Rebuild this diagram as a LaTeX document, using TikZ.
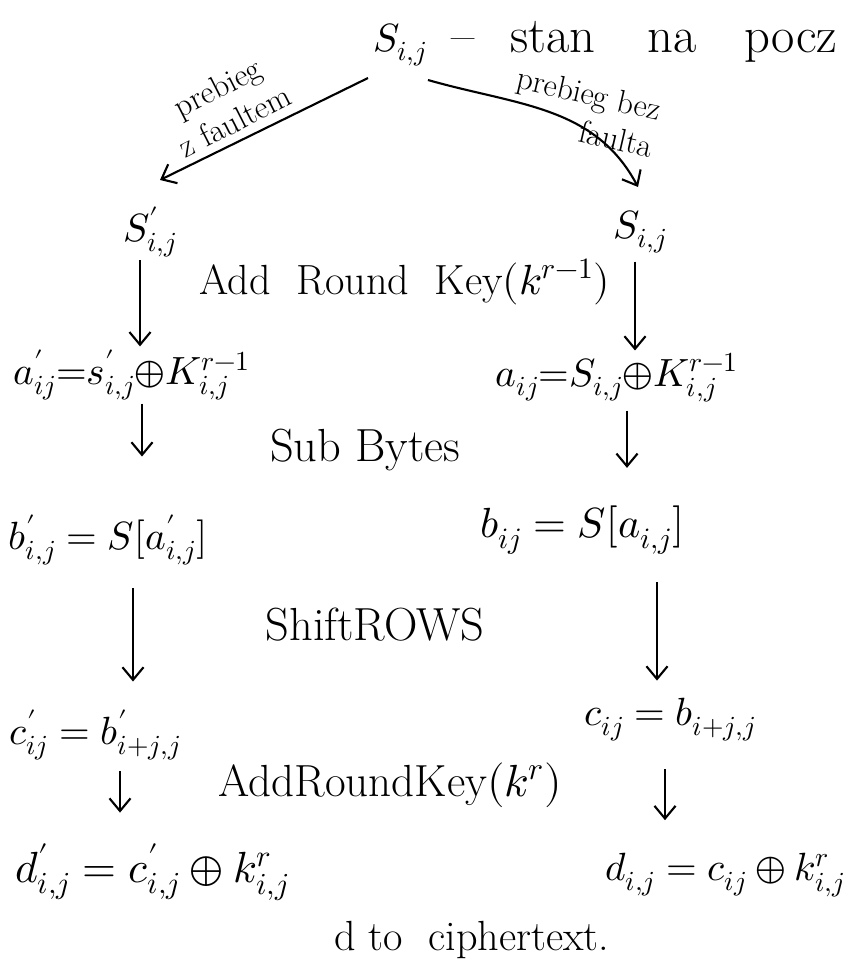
\documentclass[tikz,border=0pt]{standalone}
\usepackage{amsmath}
\usepackage{unicode-math}
\usepackage{tikz}
\usetikzlibrary{arrows.meta,calc}

\tikzset{
  arr/.style={-{Straight Barb[length=9pt,width=15pt]}, line width=1.5pt},
  formula/.style={font=\fontsize{28}{32}\selectfont, inner sep=2pt},
  opname/.style={font=\fontsize{30}{34}\selectfont, inner sep=2pt},
  arrlabel/.style={font=\fontsize{23}{27}\selectfont, inner sep=1pt}
}

\begin{document}
\begin{tikzpicture}[x=0.025cm, y=-0.025cm]
      \useasboundingbox (0,0) rectangle (846,973);
      % Start state
      \node[formula] (s0) at (400,45) {$S_{i,j}$};
      \node[opname, font=\fontsize{36}{40}\selectfont, anchor=west] (desc) at (448,42)
        {--\hspace{0.9cm}stan\hspace{1.3cm}na\hspace{1.2cm}pocz};
      % Left branch: with fault
      \node[formula] (sl) at (150,232) {$S'_{i,j}$};
      \node[formula] (al) at (132,375) {$a'_{ij}{=}s'_{i,j}{\oplus}K^{r-1}_{i,j}$};
      \node[formula] (bl) at (108,540) {$b'_{i,j}=S[a_{i,j}']$};
      \node[formula] (cl) at (95,735) {$c'_{ij}=b'_{i+j,j}$};
      \node[formula, font=\fontsize{31}{34}\selectfont] (dl) at (152,872) {$d'_{i,j}=c_{i,j}'\oplus k^{r}_{i,j}$};
      % Right branch: without fault
      \node[formula] (sr) at (640,232) {$S_{i,j}$};
      \node[formula] (ar) at (617,378) {$a_{ij}{=}S_{i,j}{\oplus}K^{r-1}_{i,j}$};
      \node[formula, font=\fontsize{30}{34}\selectfont] (br) at (582,530) {$b_{ij}=S[a_{i,j}]$};
      \node[formula] (cr) at (670,720) {$c_{ij}=b_{i+j,j}$};
      \node[formula] (dr) at (725,875) {$d_{i,j}=c_{ij}\oplus k^{r}_{i,j}$};
      % Round steps
      \node[opname] (ark1) at (405,282) {Add\ \ Round\ \ Key$(k^{r-1})$};
      \node[opname, font=\fontsize{33}{36}\selectfont] (sb) at (365,450) {Sub Bytes};
      \node[opname, font=\fontsize{33}{36}\selectfont] (sh) at (375,625) {ShiftROWS};
      \node[opname, font=\fontsize{32}{36}\selectfont] (ark2) at (390,785) {AddRoundKey$(k^{r})$};
      \node[opname] (out) at (472,940) {d to\ \ ciphertext.};
      % Split arrows
      \draw[arr] ($(s0)+(-32,33)$) -- ($(sl)+(10,-52)$);
      \draw[arr] ($(s0)+(28,35)$) to[out=-16, in=118] ($(sr)+(-2,-45)$);
      \node[arrlabel, rotate=27, align=center] (lblL) at (226,104) {prebieg\\z faultem};
      \node[arrlabel, rotate=-13, align=right] (lblR) at (585,112) {prebieg bez\\faulta};
      % Column arrows
      \foreach \a/\b/\dx/\s/\e in {sl/al/-10/0/0, al/bl/10/0/55, bl/cl/25/20/25, cl/dl/25/8/28,
                                   sr/ar/-5/5/0, ar/br/10/5/35, br/cr/75/25/15, cr/dr/-5/25/30} {
        \draw[arr, shorten <=\s*0.711pt, shorten >=\e*0.711pt]
          (\a.south) ++(\dx,0) coordinate (t) -- (t |- \b.north);
      }
\end{tikzpicture}
\end{document}
